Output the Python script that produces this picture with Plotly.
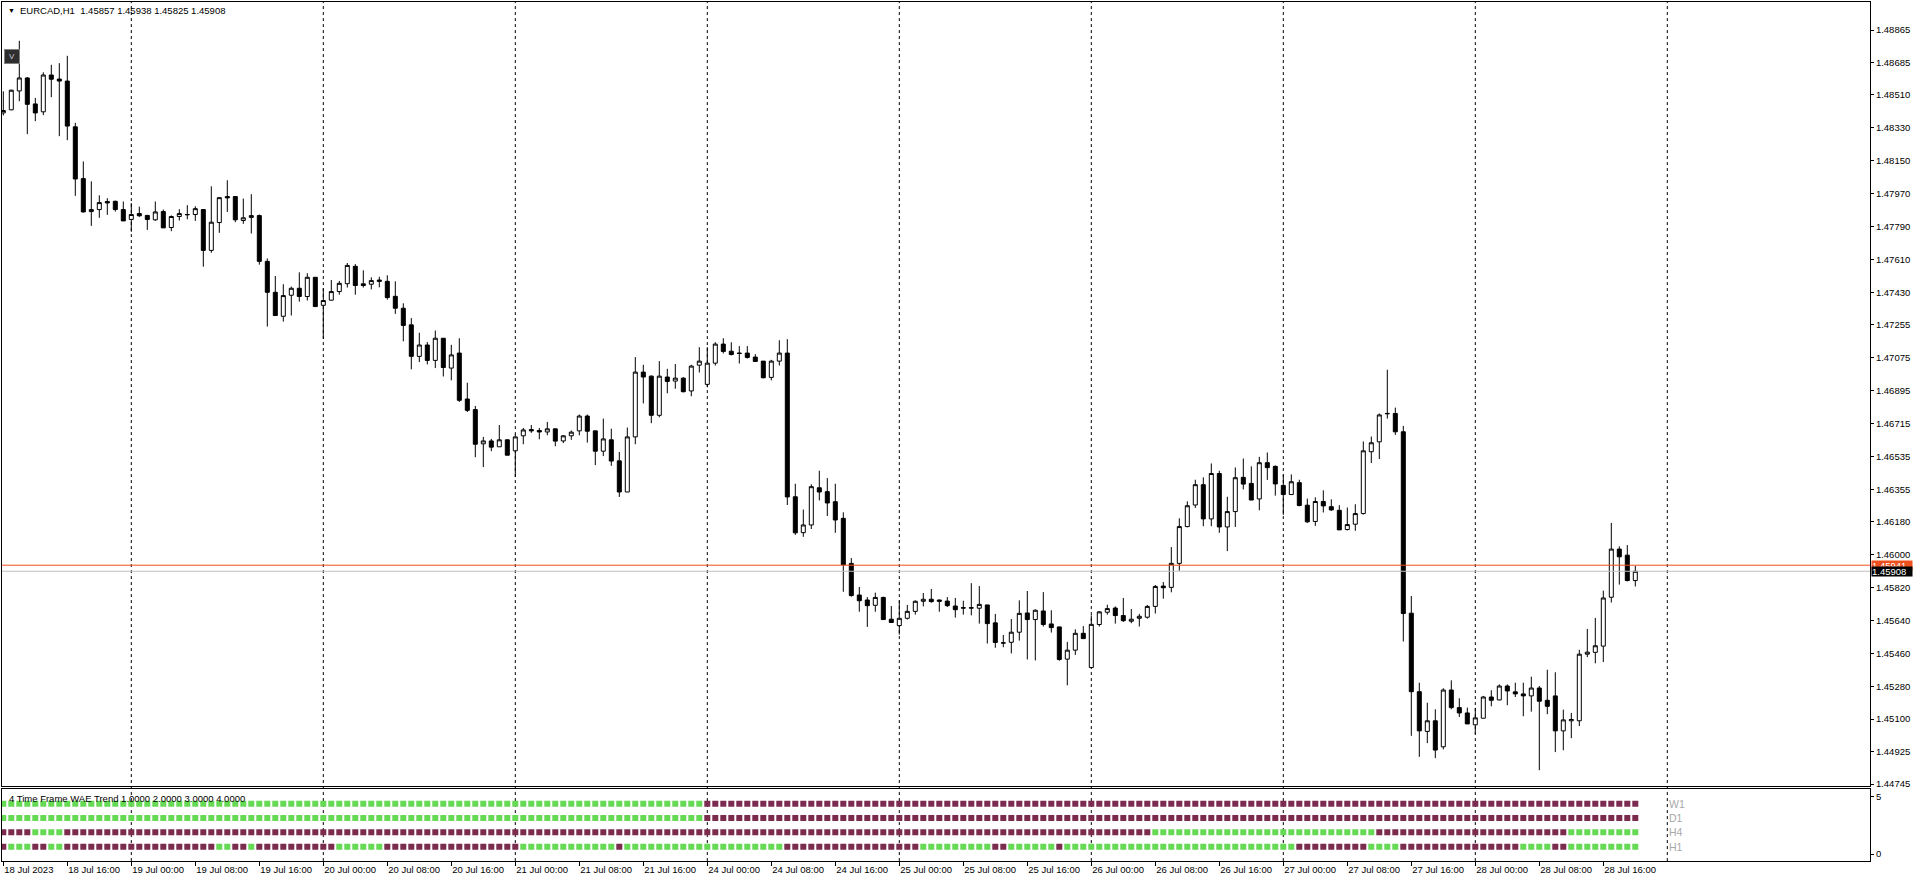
import pandas as pd
import plotly.graph_objects as go

# ---------------- data ----------------
symbol = "EURCAD"
timeframe = "H1"
times = pd.date_range("2023-07-18 08:00", "2023-07-28 20:00", freq="h")
times = times[times.dayofweek < 5]

opens = [
    1.48412, 1.48429, 1.48532, 1.48603, 1.48461, 1.48418, 1.48619, 1.48597, 1.48586, 1.48336,
    1.48053, 1.47873, 1.47884, 1.47928, 1.47929, 1.47884, 1.47830, 1.47862, 1.47852, 1.47828,
    1.47873, 1.47786, 1.47846, 1.47855, 1.47857, 1.47884, 1.47661, 1.47813, 1.47955, 1.47955,
    1.47824, 1.47841, 1.47851, 1.47601, 1.47432, 1.47301, 1.47416, 1.47454, 1.47409, 1.47514,
    1.47361, 1.47389, 1.47436, 1.47479, 1.47574, 1.47478, 1.47476, 1.47499, 1.47492, 1.47410,
    1.47345, 1.47254, 1.47082, 1.47144, 1.47060, 1.47181, 1.47018, 1.47100, 1.46849, 1.46791,
    1.46604, 1.46620, 1.46588, 1.46626, 1.46566, 1.46648, 1.46682, 1.46677, 1.46669, 1.46686,
    1.46620, 1.46648, 1.46675, 1.46756, 1.46675, 1.46564, 1.46626, 1.46511, 1.46341, 1.46642,
    1.46996, 1.46974, 1.46760, 1.46969, 1.46947, 1.46963, 1.46893, 1.47034, 1.46929, 1.47045,
    1.47149, 1.47110, 1.47100, 1.47100, 1.47078, 1.47056, 1.46967, 1.47056, 1.47100, 1.46315,
    1.46119, 1.46161, 1.46364, 1.46343, 1.46288, 1.46197, 1.45951, 1.45778, 1.45751, 1.45722,
    1.45765, 1.45646, 1.45611, 1.45651, 1.45689, 1.45744, 1.45755, 1.45751, 1.45745, 1.45718,
    1.45709, 1.45709, 1.45706, 1.45724, 1.45626, 1.45515, 1.45520, 1.45575, 1.45680, 1.45644,
    1.45691, 1.45620, 1.45604, 1.45428, 1.45477, 1.45569, 1.45382, 1.45617, 1.45684, 1.45707,
    1.45666, 1.45635, 1.45651, 1.45657, 1.45716, 1.45827, 1.45820, 1.45951, 1.46152, 1.46270,
    1.46381, 1.46194, 1.46442, 1.46150, 1.46234, 1.46421, 1.46388, 1.46303, 1.46501, 1.46481,
    1.46377, 1.46327, 1.46392, 1.46269, 1.46180, 1.46289, 1.46261, 1.46241, 1.46136, 1.46165,
    1.46223, 1.46561, 1.46615, 1.46768, 1.46770, 1.46670, 1.45679, 1.45250, 1.45033, 1.45091,
    1.44949, 1.45259, 1.45163, 1.45134, 1.45069, 1.45105, 1.45221, 1.45205, 1.45281, 1.45249,
    1.45238, 1.45227, 1.45270, 1.45203, 1.45227, 1.45036, 1.45091, 1.45091, 1.45455, 1.45465,
    1.45499, 1.45766, 1.46029, 1.45996, 1.45857,
]
highs = [
    1.48530, 1.48539, 1.48806, 1.48608, 1.48494, 1.48634, 1.48675, 1.48684, 1.48724, 1.48358,
    1.48147, 1.48038, 1.47962, 1.47946, 1.47933, 1.47928, 1.47919, 1.47900, 1.47855, 1.47928,
    1.47884, 1.47852, 1.47886, 1.47908, 1.47902, 1.47884, 1.48011, 1.47953, 1.48044, 1.47957,
    1.47944, 1.47968, 1.47857, 1.47617, 1.47521, 1.47476, 1.47463, 1.47541, 1.47536, 1.47514,
    1.47454, 1.47499, 1.47494, 1.47592, 1.47586, 1.47552, 1.47514, 1.47517, 1.47525, 1.47492,
    1.47372, 1.47291, 1.47211, 1.47160, 1.47223, 1.47181, 1.47145, 1.47181, 1.46938, 1.46811,
    1.46642, 1.46631, 1.46707, 1.46629, 1.46655, 1.46691, 1.46707, 1.46691, 1.46724, 1.46686,
    1.46651, 1.46677, 1.46764, 1.46764, 1.46675, 1.46742, 1.46687, 1.46560, 1.46693, 1.47078,
    1.47036, 1.46978, 1.47056, 1.47014, 1.47040, 1.46969, 1.47036, 1.47132, 1.47132, 1.47159,
    1.47181, 1.47159, 1.47138, 1.47138, 1.47094, 1.47056, 1.47063, 1.47170, 1.47176, 1.46386,
    1.46245, 1.46383, 1.46457, 1.46417, 1.46386, 1.46230, 1.45980, 1.45822, 1.45767, 1.45791,
    1.45769, 1.45718, 1.45749, 1.45724, 1.45749, 1.45789, 1.45811, 1.45753, 1.45767, 1.45762,
    1.45747, 1.45843, 1.45827, 1.45724, 1.45675, 1.45560, 1.45647, 1.45749, 1.45800, 1.45700,
    1.45794, 1.45695, 1.45604, 1.45522, 1.45591, 1.45608, 1.45667, 1.45691, 1.45725, 1.45716,
    1.45762, 1.45702, 1.45675, 1.45724, 1.45833, 1.45849, 1.46040, 1.46197, 1.46290, 1.46408,
    1.46421, 1.46497, 1.46457, 1.46315, 1.46475, 1.46524, 1.46481, 1.46533, 1.46557, 1.46486,
    1.46436, 1.46437, 1.46408, 1.46305, 1.46312, 1.46350, 1.46301, 1.46269, 1.46256, 1.46274,
    1.46617, 1.46644, 1.46770, 1.47009, 1.46802, 1.46702, 1.45773, 1.45299, 1.45190, 1.45154,
    1.45269, 1.45312, 1.45214, 1.45163, 1.45161, 1.45227, 1.45258, 1.45290, 1.45290, 1.45299,
    1.45299, 1.45332, 1.45281, 1.45370, 1.45356, 1.45152, 1.45134, 1.45479, 1.45593, 1.45653,
    1.45802, 1.46172, 1.46044, 1.46051, 1.45938,
]
lows = [
    1.48398, 1.48427, 1.48476, 1.48296, 1.48367, 1.48400, 1.48498, 1.48285, 1.48263, 1.47959,
    1.47868, 1.47795, 1.47839, 1.47855, 1.47873, 1.47821, 1.47763, 1.47844, 1.47773, 1.47822,
    1.47784, 1.47766, 1.47824, 1.47831, 1.47822, 1.47572, 1.47648, 1.47757, 1.47871, 1.47815,
    1.47806, 1.47753, 1.47583, 1.47245, 1.47305, 1.47272, 1.47305, 1.47381, 1.47387, 1.47354,
    1.47178, 1.47387, 1.47419, 1.47458, 1.47419, 1.47458, 1.47448, 1.47459, 1.47392, 1.47314,
    1.47164, 1.47011, 1.47051, 1.47038, 1.47018, 1.46972, 1.46951, 1.46833, 1.46778, 1.46531,
    1.46477, 1.46564, 1.46588, 1.46542, 1.46423, 1.46602, 1.46664, 1.46629, 1.46651, 1.46591,
    1.46608, 1.46626, 1.46651, 1.46611, 1.46488, 1.46537, 1.46484, 1.46314, 1.46341, 1.46602,
    1.46825, 1.46717, 1.46749, 1.46880, 1.46905, 1.46885, 1.46864, 1.46994, 1.46913, 1.47032,
    1.47098, 1.47087, 1.47043, 1.47070, 1.47051, 1.46962, 1.46951, 1.47032, 1.46270, 1.46107,
    1.46096, 1.46139, 1.46295, 1.46210, 1.46118, 1.45796, 1.45769, 1.45687, 1.45604, 1.45687,
    1.45644, 1.45628, 1.45562, 1.45644, 1.45671, 1.45716, 1.45736, 1.45687, 1.45713, 1.45655,
    1.45671, 1.45667, 1.45622, 1.45513, 1.45490, 1.45493, 1.45459, 1.45529, 1.45426, 1.45421,
    1.45606, 1.45573, 1.45419, 1.45285, 1.45451, 1.45540, 1.45379, 1.45606, 1.45671, 1.45622,
    1.45631, 1.45624, 1.45606, 1.45649, 1.45677, 1.45758, 1.45793, 1.45911, 1.46148, 1.46254,
    1.46154, 1.46154, 1.46118, 1.46018, 1.46150, 1.46355, 1.46297, 1.46241, 1.46407, 1.46321,
    1.46216, 1.46327, 1.46263, 1.46172, 1.46156, 1.46229, 1.46238, 1.46134, 1.46131, 1.46129,
    1.46218, 1.46499, 1.46521, 1.46742, 1.46653, 1.45524, 1.45009, 1.44894, 1.44969, 1.44887,
    1.44935, 1.45154, 1.45112, 1.45073, 1.45018, 1.45105, 1.45170, 1.45203, 1.45176, 1.45221,
    1.45116, 1.45141, 1.44821, 1.45127, 1.44920, 1.44930, 1.44996, 1.45062, 1.45439, 1.45405,
    1.45412, 1.45737, 1.45835, 1.45853, 1.45825,
]
closes = [
    1.48425, 1.48536, 1.48603, 1.48459, 1.48412, 1.48619, 1.48596, 1.48586, 1.48340, 1.48051,
    1.47871, 1.47884, 1.47922, 1.47920, 1.47884, 1.47822, 1.47857, 1.47850, 1.47830, 1.47871,
    1.47784, 1.47846, 1.47862, 1.47857, 1.47889, 1.47661, 1.47815, 1.47949, 1.47948, 1.47828,
    1.47839, 1.47851, 1.47601, 1.47432, 1.47305, 1.47414, 1.47454, 1.47409, 1.47514, 1.47354,
    1.47387, 1.47436, 1.47481, 1.47579, 1.47469, 1.47469, 1.47496, 1.47492, 1.47403, 1.47345,
    1.47251, 1.47082, 1.47144, 1.47060, 1.47181, 1.47021, 1.47090, 1.46842, 1.46787, 1.46602,
    1.46620, 1.46586, 1.46626, 1.46542, 1.46642, 1.46680, 1.46675, 1.46669, 1.46686, 1.46619,
    1.46648, 1.46668, 1.46756, 1.46673, 1.46564, 1.46631, 1.46510, 1.46341, 1.46642, 1.46996,
    1.46969, 1.46760, 1.46974, 1.46945, 1.46963, 1.46889, 1.47029, 1.47056, 1.47045, 1.47149,
    1.47109, 1.47092, 1.47098, 1.47076, 1.47054, 1.46965, 1.47056, 1.47100, 1.46314, 1.46118,
    1.46161, 1.46370, 1.46341, 1.46281, 1.46188, 1.45943, 1.45775, 1.45747, 1.45720, 1.45765,
    1.45644, 1.45628, 1.45651, 1.45689, 1.45744, 1.45755, 1.45742, 1.45744, 1.45720, 1.45698,
    1.45707, 1.45707, 1.45727, 1.45622, 1.45519, 1.45517, 1.45575, 1.45678, 1.45644, 1.45695,
    1.45617, 1.45600, 1.45426, 1.45477, 1.45569, 1.45540, 1.45618, 1.45686, 1.45704, 1.45666,
    1.45638, 1.45646, 1.45662, 1.45716, 1.45825, 1.45818, 1.45951, 1.46152, 1.46266, 1.46381,
    1.46194, 1.46442, 1.46150, 1.46234, 1.46419, 1.46384, 1.46297, 1.46501, 1.46474, 1.46385,
    1.46327, 1.46397, 1.46267, 1.46178, 1.46289, 1.46265, 1.46243, 1.46134, 1.46163, 1.46223,
    1.46566, 1.46610, 1.46762, 1.46770, 1.46670, 1.45677, 1.45250, 1.45036, 1.45091, 1.44931,
    1.45259, 1.45163, 1.45134, 1.45074, 1.45107, 1.45221, 1.45203, 1.45281, 1.45254, 1.45238,
    1.45227, 1.45270, 1.45198, 1.45170, 1.45036, 1.45096, 1.45098, 1.45455, 1.45466, 1.45501,
    1.45762, 1.46029, 1.45987, 1.45857, 1.45908,
]
ask_price = 1.45941

price_ticks = [
    1.48865, 1.48685, 1.48510, 1.48330, 1.48150, 1.47970, 1.47790, 1.47610,
    1.47430, 1.47255, 1.47075, 1.46895, 1.46715, 1.46535, 1.46355, 1.46180,
    1.46000, 1.45820, 1.45640, 1.45460, 1.45280, 1.45100, 1.44925, 1.44745,
]

# 4 Time Frame WAE Trend states, as runs of (state, number of bars)
indicator_name = "4 Time Frame WAE Trend 1.0000 2.0000 3.0000 4.0000"
w1_runs = [("up", 88), ("down", 117)]
d1_runs = [("up", 88), ("down", 117)]
h4_runs = [("down", 4), ("up", 4), ("down", 136), ("up", 28), ("down", 24), ("up", 9)]
h1_runs = [("down", 1), ("up", 3), ("down", 2), ("up", 2), ("down", 19), ("up", 2),
           ("down", 2), ("up", 1), ("down", 10), ("up", 6), ("down", 17), ("up", 12),
           ("down", 1), ("up", 20), ("down", 17), ("up", 9), ("down", 2), ("up", 6),
           ("down", 1), ("up", 29), ("down", 9), ("up", 4), ("down", 15), ("up", 4),
           ("down", 2), ("up", 9)]
rows = [("W1", 4, w1_runs), ("D1", 3, d1_runs), ("H4", 2, h4_runs), ("H1", 1, h1_runs)]

# ---------------- geometry / style ----------------
W, H = 1916, 885
PX_L, PX_R = 2, 1870          # plot area left / right (px)
MAIN_T, MAIN_B = 2, 789       # main panel top / bottom (px)
IND_T, IND_B = 792, 864       # indicator panel top / bottom (px)
BAR_PX = 8.0
FIRST_BAR_PX = 3.3
PRICE_TOP, PRICE_BOT = 1.49018, 1.44733

FONT = "Liberation Sans, Arial, sans-serif"
GREEN = "#66D955"
MAROON = "#7B2B4E"
ASK_COL = "#F0501E"
BID_COL = "#C0C0C0"

n = len(times)
xs = list(range(n))
x_range = [(PX_L - FIRST_BAR_PX) / BAR_PX, (PX_R - FIRST_BAR_PX) / BAR_PX]
xdom = [PX_L / W, PX_R / W]
main_dom = [(H - MAIN_B) / H, (H - MAIN_T) / H]
ind_dom = [(H - IND_B) / H, (H - IND_T) / H]

fig = go.Figure()

fig.add_trace(go.Candlestick(
    x=xs, open=opens, high=highs, low=lows, close=closes,
    increasing=dict(line=dict(color="black", width=1), fillcolor="white"),
    decreasing=dict(line=dict(color="black", width=1), fillcolor="black"),
    whiskerwidth=0, hoverinfo="skip", xaxis="x", yaxis="y", showlegend=False,
))

for name, level, runs in rows:
    states = []
    for st, cnt in runs:
        states += [st] * cnt
    for st, col in (("up", GREEN), ("down", MAROON)):
        px = [i for i, s in enumerate(states) if s == st]
        fig.add_trace(go.Scatter(
            x=px, y=[level] * len(px), mode="markers",
            marker=dict(symbol="square", size=6, color=col, line=dict(width=0)),
            xaxis="x2", yaxis="y2", hoverinfo="skip", showlegend=False,
        ))

# day separators (incl. the next day in the empty right area)
day_pos = [i for i, t in enumerate(times) if t.hour == 0]
day_pos.append(n - 1 + (24 - times[-1].hour))

shapes = []
for p in day_pos:
    shapes.append(dict(type="line", xref="x", yref="paper", x0=p, x1=p,
                       y0=ind_dom[0], y1=main_dom[1],
                       line=dict(color="black", width=1, dash="3px,3px"), layer="below"))
shapes.append(dict(type="line", xref="paper", yref="y", x0=xdom[0], x1=xdom[1],
                   y0=closes[-1], y1=closes[-1], line=dict(color=BID_COL, width=1), layer="above"))
shapes.append(dict(type="line", xref="paper", yref="y", x0=xdom[0], x1=xdom[1],
                   y0=ask_price, y1=ask_price, line=dict(color=ASK_COL, width=1), layer="above"))

tick_idx = list(range(0, n, 8))
tick_txt = []
for i in tick_idx:
    t = times[i]
    tick_txt.append(f"{t.day} {t:%b %Y}" if i == 0 else f"{t.day} {t:%b %H:%M}")

annotations = [
    dict(xref="paper", yref="paper", x=6 / W, y=(H - 11) / H, xanchor="left", yanchor="middle",
         text="▼", showarrow=False, font=dict(family=FONT, size=7, color="black")),
    dict(xref="paper", yref="paper", x=18 / W, y=(H - 11) / H, xanchor="left", yanchor="middle",
         text=f"{symbol},{timeframe}\u00a0 {opens[-1]:.5f} {highs[-1]:.5f} {lows[-1]:.5f} {closes[-1]:.5f}",
         showarrow=False, font=dict(family=FONT, size=9.5, color="black")),
    dict(xref="paper", yref="paper", x=4 / W, y=(H - 57) / H, xanchor="left", yanchor="middle",
         text="V", showarrow=False, bgcolor="#2E2E2E", bordercolor="#808080", borderwidth=1,
         width=12, height=11, font=dict(family=FONT, size=8, color="#C8C8D8")),
    dict(xref="paper", yref="paper", x=7 / W, y=(H - 801.5) / H, xanchor="left", yanchor="middle",
         text=indicator_name, showarrow=False, font=dict(family=FONT, size=9.5, color="black")),
]
for name, level, runs in rows:
    annotations.append(dict(xref="x2", yref="y2", x=day_pos[-1], y=level, xanchor="left",
                            yanchor="middle", text=name, showarrow=False,
                            font=dict(family=FONT, size=10.5, color="#A8A8A8")))
for price, bg in ((ask_price, ASK_COL), (closes[-1], "black")):
    annotations.append(dict(xref="paper", yref="y", x=(PX_R + 1) / W, y=price, xanchor="left",
                            yanchor="middle", text=f"{price:.5f}", showarrow=False, bgcolor=bg,
                            width=40, height=9, align="left", borderpad=0,
                            font=dict(family=FONT, size=9.5, color="white")))

axis_common = dict(showline=True, linecolor="black", linewidth=1, mirror=True,
                   showgrid=False, zeroline=False, fixedrange=True)

fig.update_layout(
    width=W, height=H, margin=dict(l=0, r=0, t=0, b=0),
    paper_bgcolor="white", plot_bgcolor="white", showlegend=False, hovermode=False,
    boxgap=0.5, boxgroupgap=0,
    font=dict(family=FONT, size=9.5, color="black"),
    xaxis=dict(domain=xdom, range=x_range, anchor="y", showticklabels=False, ticks="",
               rangeslider=dict(visible=False), **axis_common),
    yaxis=dict(domain=main_dom, range=[PRICE_BOT, PRICE_TOP], anchor="x", side="right",
               tickvals=price_ticks, ticktext=[f"{v:.5f}" for v in price_ticks],
               ticks="outside", ticklen=3, tickcolor="black",
               tickfont=dict(family=FONT, size=9.5, color="black"), **axis_common),
    xaxis2=dict(domain=xdom, range=x_range, anchor="y2", tickvals=tick_idx, ticktext=tick_txt,
                ticks="outside", ticklen=4, tickcolor="black", ticklabelposition="outside right",
                tickfont=dict(family=FONT, size=9.5, color="black"), **axis_common),
    yaxis2=dict(domain=ind_dom, range=[0, 5], anchor="x2", side="right",
                tickvals=[4.51, 0.49], ticktext=["5", "0"], ticks="outside", ticklen=3,
                tickcolor="black", tickfont=dict(family=FONT, size=9.5, color="black"),
                **axis_common),
    shapes=shapes, annotations=annotations,
)

fig.write_html(
    "out.html",
    config={"displayModeBar": False, "staticPlot": True},
    post_script="document.body.style.margin='0';document.body.style.overflow='hidden';",
)
